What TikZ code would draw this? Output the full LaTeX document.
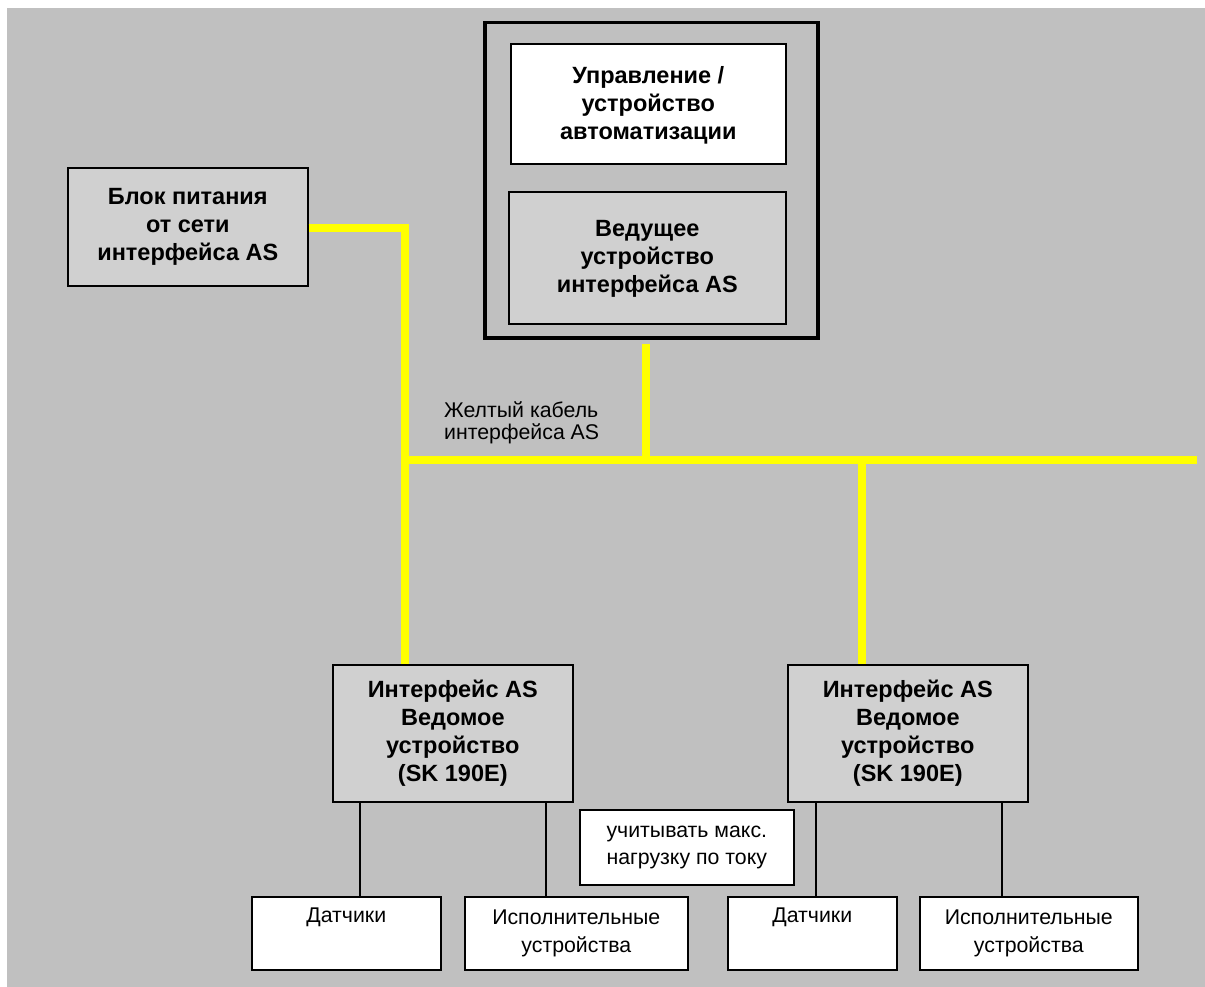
\documentclass[tikz,border=0pt]{standalone}
\usepackage{fontspec}
\setmainfont{Liberation Sans}
\definecolor{bggray}{RGB}{192,192,192}
\definecolor{boxgray}{RGB}{208,208,208}
\definecolor{cable}{RGB}{255,255,0}
\tikzset{
  bold/.style={font=\fontsize{23.5}{28}\selectfont\bfseries, align=center},
  plain/.style={font=\fontsize{21.3}{27.5}\selectfont, align=center},
  boxbase/.style={draw=black, inner sep=0pt, anchor=north west},
  whitebox/.style={boxbase, fill=white, line width=1.6pt},
  graybox/.style={boxbase, fill=boxgray, line width=1.6pt},
  outerbox/.style={boxbase, fill=bggray, line width=3.5pt},
  yellowline/.style={draw=cable, line width=8pt},
  wire/.style={draw=black, line width=1.4pt},
}
\begin{document}
\begin{tikzpicture}[x=1pt,y=-1pt]
\useasboundingbox (0,0) rectangle (1205,987);
\fill[white] (0,0) rectangle (1205,987);
\fill[bggray] (7,8) rectangle (1205,987);

% boxes (positioned by north-west corner)
\node[outerbox, minimum width=333pt, minimum height=315pt] (master) at (483,21) {};
\node[whitebox, minimum width=275pt, minimum height=120pt, bold, text depth=2pt] (ctrl) at (510,43) {Управление /\\устройство\\автоматизации};
\node[graybox, minimum width=277pt, minimum height=132pt, bold, text depth=2pt] (mas) at (508,191) {Ведущее\\устройство\\интерфейса AS};
\node[graybox, minimum width=240pt, minimum height=118pt, bold] (psu) at (67,167) {Блок питания\\от сети\\интерфейса AS};

% cable coordinates
\coordinate (pcorner) at (405,228);
\coordinate (j1) at (405,460);
\coordinate (jm) at (646,460);
\coordinate (j2) at (862,460);
\coordinate (busend) at (1197,460);
\coordinate (l1a) at (360,0);
\coordinate (l1b) at (546,0);
\coordinate (l2a) at (816,0);
\coordinate (l2b) at (1002,0);

% yellow cable
\draw[yellowline] (psu.east |- pcorner) -- (pcorner) -- (405,664);
\draw[yellowline] (j1) -- (busend);
\draw[yellowline] ([yshift=-4pt]master.south -| jm) -- (jm);
\draw[yellowline] (j2) -- (862,664);

\node[anchor=north west, align=left, font=\fontsize{21.3}{22}\selectfont, inner sep=0pt] (cablelbl) at (444,401) {Желтый кабель\\интерфейса AS};

\node[graybox, minimum width=240pt, minimum height=137pt, bold] (sl1) at (332,664) {Интерфейс AS\\Ведомое\\устройство\\(SK 190E)};
\node[graybox, minimum width=240pt, minimum height=137pt, bold] (sl2) at (787,664) {Интерфейс AS\\Ведомое\\устройство\\(SK 190E)};

\node[whitebox, minimum width=214pt, minimum height=75pt, plain] (note) at (579,809) {учитывать макс.\\нагрузку по току};

\node[whitebox, minimum width=189pt, minimum height=73pt, plain] (sen1) at (251,896) {Датчики\\\strut};
\node[whitebox, minimum width=223pt, minimum height=73pt, plain] (act1) at (464,896) {Исполнительные\\устройства};
\node[whitebox, minimum width=169pt, minimum height=73pt, plain] (sen2) at (727,896) {Датчики\\\strut};
\node[whitebox, minimum width=218pt, minimum height=73pt, plain] (act2) at (919,896) {Исполнительные\\устройства};

\draw[wire] (sl1.south -| l1a) -- (sen1.north -| l1a);
\draw[wire] (sl1.south -| l1b) -- (act1.north -| l1b);
\draw[wire] (sl2.south -| l2a) -- (sen2.north -| l2a);
\draw[wire] (sl2.south -| l2b) -- (act2.north -| l2b);
\end{tikzpicture}
\end{document}
